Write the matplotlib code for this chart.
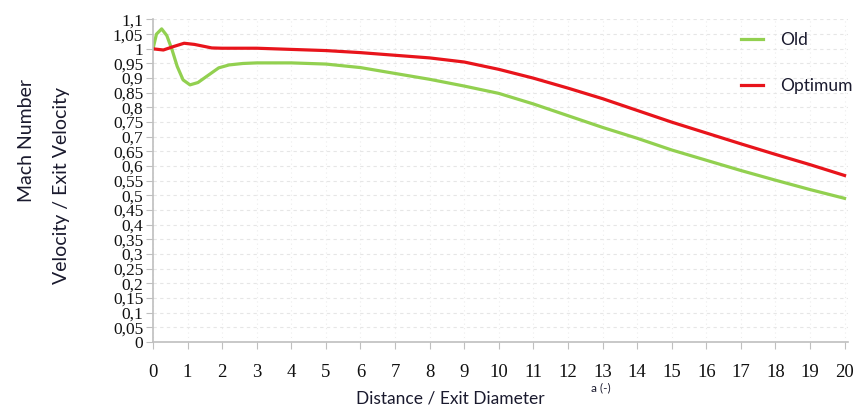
import matplotlib
matplotlib.use('Agg')
import matplotlib.pyplot as plt
from matplotlib.ticker import FuncFormatter, MultipleLocator

# distance / exit diameter and velocity ratio for both nozzles
old_x = [0, 0.1, 0.25, 0.4, 0.55, 0.7, 0.87, 1.07, 1.3, 1.6, 1.9, 2.2, 2.6, 3, 4, 5, 6,
         7, 8, 9, 10, 11, 12, 13, 14, 15, 16, 17, 18, 19, 20]
old_y = [1.0, 1.05, 1.068, 1.045, 0.997, 0.94, 0.894, 0.877, 0.885, 0.91, 0.935, 0.945,
         0.95, 0.952, 0.952, 0.948, 0.936, 0.916, 0.896, 0.873, 0.848, 0.812, 0.772,
         0.732, 0.695, 0.655, 0.62, 0.585, 0.552, 0.52, 0.49]

opt_x = [0, 0.3, 0.6, 0.9, 1.2, 1.7, 2, 3, 4, 5, 6, 7, 8, 9, 10, 11, 12, 13, 14, 15,
         16, 17, 18, 19, 20]
opt_y = [1.0, 0.996, 1.008, 1.019, 1.015, 1.003, 1.002, 1.002, 0.998, 0.994, 0.987,
         0.978, 0.969, 0.955, 0.93, 0.90, 0.866, 0.83, 0.79, 0.75, 0.713, 0.676, 0.64,
         0.605, 0.568]

series_names = ['Old', 'Optimum']
series_colors = ['#92D050', '#E8141B']

label_font = 'Lato'
text_color = '#1a1a2e'

fig = plt.figure(figsize=(8.61, 4.07), dpi=100)
ax = fig.add_axes([153 / 861, 1 - 342 / 407, 695 / 861, 322.5 / 407])

ax.plot(old_x, old_y, color=series_colors[0], lw=2.3, label=series_names[0])
ax.plot(opt_x, opt_y, color=series_colors[1], lw=2.3, label=series_names[1])

ax.set_xlim(0, 20.1)
ax.set_ylim(0, 1.1)
ax.xaxis.set_major_locator(MultipleLocator(1))
ax.yaxis.set_major_locator(MultipleLocator(0.05))


def comma_fmt(v, pos):
    return ('%g' % round(v, 2)).replace('.', ',')


ax.yaxis.set_major_formatter(FuncFormatter(comma_fmt))
ax.xaxis.set_major_formatter(FuncFormatter(comma_fmt))

ax.grid(axis='y', color='#E6E6E6', ls=(0, (3, 3)), lw=0.8)
ax.grid(axis='x', color='#EDEDED', ls=(0, (1, 3)), lw=0.8)
ax.set_axisbelow(True)

for s in ['top', 'right']:
    ax.spines[s].set_visible(False)
for s in ['left', 'bottom']:
    ax.spines[s].set_color('#BFBFBF')
    ax.spines[s].set_linewidth(1.2)

ax.tick_params(axis='both', colors='#BFBFBF', length=5, labelcolor='#111111',
               labelfontfamily='Liberation Serif')
ax.tick_params(axis='x', pad=11, labelsize=13.5)
ax.tick_params(axis='y', pad=2, labelsize=12.5)

leg = ax.legend(loc='upper left', bbox_to_anchor=(725 / 861, 1 - 16 / 407),
                bbox_transform=fig.transFigure, frameon=False,
                handlelength=1.3, handletextpad=1.0, labelspacing=1.75,
                prop={'family': label_font, 'size': 12.5})
for t in leg.get_texts():
    t.set_color(text_color)

fig.text(27 / 861, 1 - 140 / 407, 'Mach Number', rotation=90, ha='center', va='center',
         fontsize=14, family=label_font, color=text_color)
fig.text(62 / 861, 1 - 185 / 407, 'Velocity / Exit Velocity', rotation=90, ha='center',
         va='center', fontsize=14, family=label_font, color=text_color)
fig.text(450 / 861, 1 - 398 / 407, 'Distance / Exit Diameter', ha='center', va='center',
         fontsize=12.5, family=label_font, color=text_color)
fig.text(601 / 861, 1 - 388 / 407, 'a (-)', ha='center', va='center',
         fontsize=8.5, family=label_font, color=text_color)

fig.savefig('out.png', dpi=100)
